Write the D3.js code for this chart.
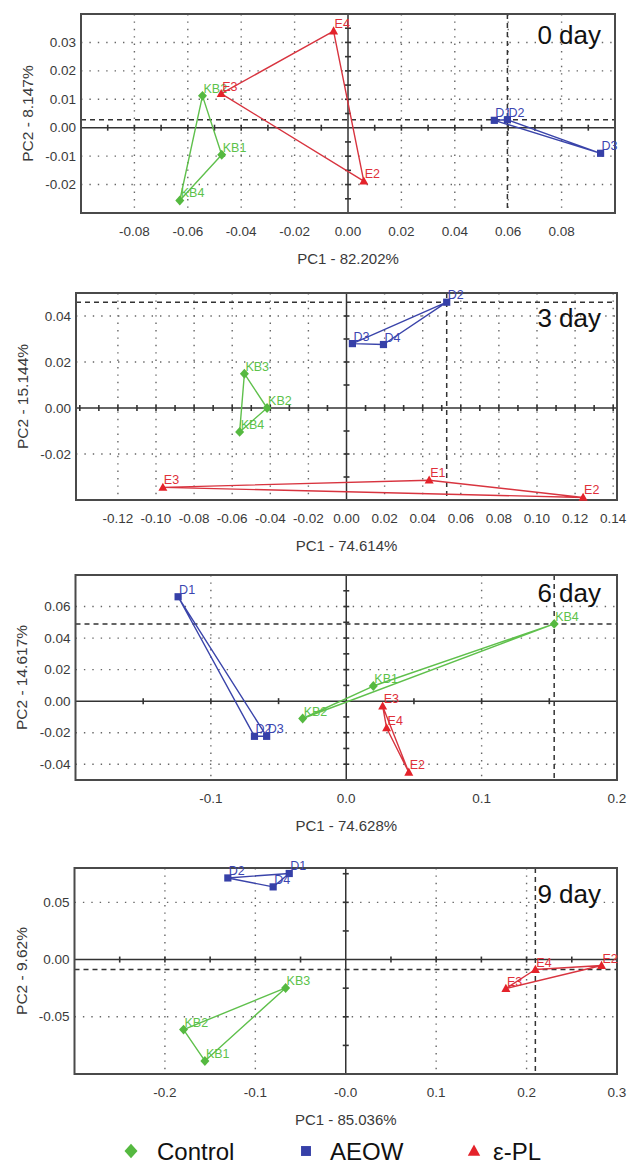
<!DOCTYPE html>
<html>
<head>
<meta charset="utf-8">
<script src="https://cdn.jsdelivr.net/npm/d3@7/dist/d3.min.js"></script>
<style>
  html, body { margin: 0; padding: 0; background: #fff; }
  svg { display: block; font-family: "Liberation Sans", Arial, sans-serif; }
</style>
</head>
<body>
<svg id="chart" width="630" height="1165"></svg>
<script>
// ---------- data ----------
const dayLabels = ["0 day", "3 day", "6 day", "9 day"];
const pc1Titles = ["PC1 - 82.202%", "PC1 - 74.614%", "PC1 - 74.628%", "PC1 - 85.036%"];
const pc2Titles = ["PC2 - 8.147%", "PC2 - 15.144%", "PC2 - 14.617%", "PC2 - 9.62%"];

const xDomains = [[-0.1, 0.1], [-0.142, 0.142], [-0.2, 0.2], [-0.3, 0.3]];
const yDomains = [[-0.03, 0.04], [-0.04, 0.05], [-0.05, 0.08], [-0.1, 0.08]];

const xTickValues = [
  [-0.08, -0.06, -0.04, -0.02, 0, 0.02, 0.04, 0.06, 0.08],
  [-0.12, -0.10, -0.08, -0.06, -0.04, -0.02, 0, 0.02, 0.04, 0.06, 0.08, 0.10, 0.12, 0.14],
  [-0.1, 0, 0.1, 0.2],
  [-0.2, -0.1, 0, 0.1, 0.2, 0.3]
];
const xTickLabels = [
  ["-0.08", "-0.06", "-0.04", "-0.02", "0.00", "0.02", "0.04", "0.06", "0.08"],
  ["-0.12", "-0.10", "-0.08", "-0.06", "-0.04", "-0.02", "0.00", "0.02", "0.04", "0.06", "0.08", "0.10", "0.12", "0.14"],
  ["-0.1", "0.0", "0.1", "0.2"],
  ["-0.2", "-0.1", "-0.0", "0.1", "0.2", "0.3"]
];
const yTickValues = [
  [0.03, 0.02, 0.01, 0, -0.01, -0.02],
  [0.04, 0.02, 0, -0.02],
  [0.06, 0.04, 0.02, 0, -0.02, -0.04],
  [0.05, 0, -0.05]
];
const yTickLabels = [
  ["0.03", "0.02", "0.01", "0.00", "-0.01", "-0.02"],
  ["0.04", "0.02", "0.00", "-0.02"],
  ["0.06", "0.04", "0.02", "0.00", "-0.02", "-0.04"],
  ["0.05", "0.00", "-0.05"]
];
const xMinorSteps = [0.01, 0.01, 0.05, 0.05];
const yMinorSteps = [0.005, 0.01, 0.01, 0.025];

// groups: [label, PC1, PC2]
const control0 = [["KB2", -0.0545, 0.0112], ["KB1", -0.0473, -0.0095], ["KB4", -0.063, -0.0256]];
const aeow0    = [["D1", 0.0548, 0.0026], ["D2", 0.0597, 0.0028], ["D3", 0.0946, -0.009]];
const epl0     = [["E3", -0.0475, 0.012], ["E4", -0.0054, 0.034], ["E2", 0.0059, -0.0188]];

const control3 = [["KB3", -0.0536, 0.0149], ["KB2", -0.0417, 0.0], ["KB4", -0.0561, -0.0104]];
const aeow3    = [["D3", 0.0031, 0.028], ["D4", 0.0194, 0.0276], ["D2", 0.0526, 0.046]];
const epl3     = [["E3", -0.0964, -0.0345], ["E1", 0.0434, -0.0314], ["E2", 0.1242, -0.0389]];

const control6 = [["KB2", -0.0322, -0.011], ["KB1", 0.02, 0.0096], ["KB4", 0.1536, 0.049]];
const aeow6    = [["D1", -0.1242, 0.0662], ["D2", -0.0678, -0.0223], ["D3", -0.0588, -0.0223]];
const epl6     = [["E3", 0.0269, -0.0032], ["E4", 0.0298, -0.017], ["E2", 0.0462, -0.0451]];

const control9 = [["KB3", -0.0665, -0.0248], ["KB2", -0.1794, -0.0612], ["KB1", -0.1558, -0.0886]];
const aeow9    = [["D2", -0.1304, 0.0713], ["D1", -0.0625, 0.0752], ["D4", -0.0803, 0.0635]];
const epl9     = [["E3", 0.1771, -0.0253], ["E4", 0.2097, -0.0087], ["E2", 0.2829, -0.0052]];

// crosshair (selected sample) per panel: [group, label]
const selected = [["aeow", "D2"], ["aeow", "D2"], ["control", "KB4"], ["epl", "E4"]];

const seriesNames = ["Control", "AEOW", "ε-PL"];

// ---------- styling / layout ----------
const panelData = [
  {control: control0, aeow: aeow0, epl: epl0},
  {control: control3, aeow: aeow3, epl: epl3},
  {control: control6, aeow: aeow6, epl: epl6},
  {control: control9, aeow: aeow9, epl: epl9}
];
const boxes = [
  {x0: 81, x1: 615, y0: 14, y1: 213, ytx: 27, dayY: 44},
  {x0: 76, x1: 617, y0: 293, y1: 500, ytx: 22, dayY: 327},
  {x0: 75.5, x1: 617, y0: 575, y1: 780, ytx: 21, dayY: 601.5},
  {x0: 74.5, x1: 617, y0: 868, y1: 1074, ytx: 21, dayY: 903}
];
const style = {
  control: {marker: "#55b940", line: "#5fc04c", text: "#5cc24a", shape: "diamond"},
  aeow:    {marker: "#3640a8", line: "#3a44aa", text: "#3b45b0", shape: "square"},
  epl:     {marker: "#e4222a", line: "#d8343f", text: "#e0303a", shape: "triangle"}
};

function shapePath(shape, s) {
  if (shape === "diamond") return `M0,${-s * 1.1}L${s},0L0,${s * 1.1}L${-s},0Z`;
  if (shape === "square") return `M${-s * 0.8},${-s * 0.8}H${s * 0.8}V${s * 0.8}H${-s * 0.8}Z`;
  return `M0,${-s * 1.05}L${s},${s * 0.75}L${-s},${s * 0.75}Z`;
}

const svg = d3.select("#chart");
const textColor = "#3a3a3a";

panelData.forEach((pd, i) => {
  const b = boxes[i];
  const x = d3.scaleLinear().domain(xDomains[i]).range([b.x0, b.x1]);
  const y = d3.scaleLinear().domain(yDomains[i]).range([b.y1, b.y0]);
  const g = svg.append("g");

  // dotted grid
  xTickValues[i].filter(v => v !== 0).forEach(v => {
    g.append("line").attr("x1", x(v)).attr("x2", x(v)).attr("y1", b.y0).attr("y2", b.y1)
      .attr("stroke", "#666").attr("stroke-width", 1.4).attr("stroke-dasharray", "1.4,6")
      .attr("stroke-linecap", "butt");
  });
  yTickValues[i].filter(v => v !== 0).forEach(v => {
    g.append("line").attr("x1", b.x0).attr("x2", b.x1).attr("y1", y(v)).attr("y2", y(v))
      .attr("stroke", "#666").attr("stroke-width", 1.4).attr("stroke-dasharray", "1.4,7");
  });

  // zero axes
  g.append("line").attr("x1", b.x0).attr("x2", b.x1).attr("y1", y(0)).attr("y2", y(0))
    .attr("stroke", "#333").attr("stroke-width", 1.5);
  g.append("line").attr("x1", x(0)).attr("x2", x(0)).attr("y1", b.y0).attr("y2", b.y1)
    .attr("stroke", "#333").attr("stroke-width", 1.5);

  // minor ticks on zero axes
  const xs = d3.range(Math.ceil(xDomains[i][0] / xMinorSteps[i] - 1e-6), Math.floor(xDomains[i][1] / xMinorSteps[i] + 1e-6) + 1)
    .map(k => k * xMinorSteps[i]).filter(v => Math.abs(v) > 1e-9);
  xs.forEach(v => {
    const px = x(v);
    if (px < b.x0 + 2 || px > b.x1 - 2) return;
    g.append("line").attr("x1", px).attr("x2", px).attr("y1", y(0) - 3).attr("y2", y(0) + 3)
      .attr("stroke", "#333").attr("stroke-width", 1.6);
  });
  const ys = d3.range(Math.ceil(yDomains[i][0] / yMinorSteps[i] - 1e-6), Math.floor(yDomains[i][1] / yMinorSteps[i] + 1e-6) + 1)
    .map(k => k * yMinorSteps[i]).filter(v => Math.abs(v) > 1e-9);
  ys.forEach(v => {
    const py = y(v);
    if (py < b.y0 + 2 || py > b.y1 - 2) return;
    g.append("line").attr("x1", x(0) - 3).attr("x2", x(0) + 3).attr("y1", py).attr("y2", py)
      .attr("stroke", "#333").attr("stroke-width", 1.6);
  });

  // crosshair
  const selGroup = pd[selected[i][0]];
  const sp = selGroup.find(d => d[0] === selected[i][1]);
  g.append("line").attr("x1", b.x0).attr("x2", b.x1).attr("y1", y(sp[2])).attr("y2", y(sp[2]))
    .attr("stroke", "#333").attr("stroke-width", 1.5).attr("stroke-dasharray", "5,4");
  g.append("line").attr("x1", x(sp[1])).attr("x2", x(sp[1])).attr("y1", b.y0).attr("y2", b.y1)
    .attr("stroke", "#333").attr("stroke-width", 1.5).attr("stroke-dasharray", "5,4");

  // border
  g.append("rect").attr("x", b.x0).attr("y", b.y0).attr("width", b.x1 - b.x0).attr("height", b.y1 - b.y0)
    .attr("fill", "none").attr("stroke", "#4a4a4a").attr("stroke-width", 2);

  // tick labels
  xTickValues[i].forEach((v, k) => {
    g.append("text").attr("x", x(v)).attr("y", b.y1 + 18).attr("text-anchor", "middle")
      .attr("dominant-baseline", "central").attr("font-size", 13.5).attr("fill", textColor)
      .text(xTickLabels[i][k]);
  });
  yTickValues[i].forEach((v, k) => {
    g.append("text").attr("x", b.x0 - 5).attr("y", y(v)).attr("text-anchor", "end")
      .attr("dominant-baseline", "central").attr("font-size", 13.5).attr("fill", textColor)
      .text(yTickLabels[i][k]);
  });

  // axis titles
  g.append("text").attr("x", (b.x0 + b.x1) / 2).attr("y", b.y1 + 45).attr("text-anchor", "middle")
    .attr("dominant-baseline", "central").attr("font-size", 15).attr("fill", textColor).text(pc1Titles[i]);
  g.append("text").attr("transform", `translate(${b.ytx},${(b.y0 + b.y1) / 2}) rotate(-90)`)
    .attr("text-anchor", "middle").attr("dominant-baseline", "central")
    .attr("font-size", 15.5).attr("fill", textColor).text(pc2Titles[i]);

  // day label
  g.append("text").attr("x", 601).attr("y", b.dayY).attr("text-anchor", "end")
    .attr("font-size", 26).attr("fill", "#111").text(dayLabels[i]);

  // groups: polygons, markers, labels
  ["control", "aeow", "epl"].forEach(key => {
    const pts = pd[key];
    const st = style[key];
    const line = d3.line().x(d => x(d[1])).y(d => y(d[2]));
    g.append("path").attr("d", line(pts) + "Z").attr("fill", "none")
      .attr("stroke", st.line).attr("stroke-width", 1.4).attr("stroke-linejoin", "round");
    pts.forEach(d => {
      g.append("path").attr("d", shapePath(st.shape, 4.5))
        .attr("transform", `translate(${x(d[1])},${y(d[2])})`).attr("fill", st.marker);
      g.append("text").attr("x", x(d[1]) + 1).attr("y", y(d[2]) - 3)
        .attr("font-size", 12.5).attr("fill", st.text).text(d[0]);
    });
  });
});

// legend
const legendX = [131, 306, 474];
const legendTextX = [157, 330, 493];
const legendKeys = ["control", "aeow", "epl"];
const legendY = 1151;
seriesNames.forEach((name, k) => {
  const st = style[legendKeys[k]];
  svg.append("path").attr("d", shapePath(st.shape, legendKeys[k] === "control" ? 6.5 : 6.2))
    .attr("transform", `translate(${legendX[k]},${legendY})`).attr("fill", st.marker);
  svg.append("text").attr("x", legendTextX[k]).attr("y", legendY + 8.5)
    .attr("font-size", 24).attr("fill", "#111").text(name);
});
</script>
</body>
</html>
